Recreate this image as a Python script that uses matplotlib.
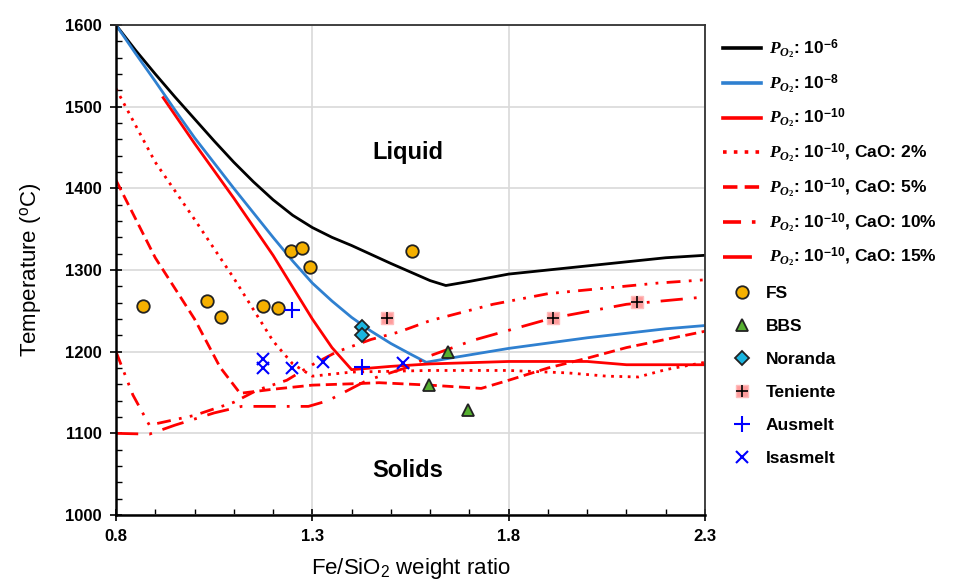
import numpy as np
import matplotlib
matplotlib.use('Agg')
import matplotlib.pyplot as plt
from matplotlib.legend_handler import HandlerTuple
from matplotlib.ticker import MultipleLocator, FixedLocator, FormatStrFormatter

plt.rcParams['font.family'] = ['Liberation Sans', 'DejaVu Sans']
plt.rcParams['mathtext.fontset'] = 'custom'
plt.rcParams['mathtext.it'] = 'Liberation Serif:italic:bold'
plt.rcParams['mathtext.rm'] = 'Liberation Serif:bold'

# Liquidus curves (Fe/SiO2 ratio, temperature in C)
x_p6 = [0.8, 0.85, 0.9, 0.95, 1.0, 1.05, 1.1, 1.15, 1.2, 1.25, 1.3, 1.35, 1.4, 1.5, 1.6, 1.64, 1.7, 1.8, 1.9, 2.0, 2.1, 2.2, 2.3]
t_p6 = [1600, 1569, 1540, 1512, 1485, 1458, 1432, 1408, 1386, 1367, 1352, 1340, 1330, 1308, 1287, 1281, 1286, 1295, 1300, 1305, 1310, 1315, 1318]

x_p8 = [0.8, 0.85, 0.9, 0.95, 1.0, 1.05, 1.1, 1.15, 1.2, 1.25, 1.3, 1.35, 1.4, 1.45, 1.5, 1.55, 1.59, 1.65, 1.8, 2.0, 2.2, 2.3]
t_p8 = [1600, 1565, 1531, 1496, 1462, 1431, 1400, 1370, 1340, 1311, 1284, 1262, 1242, 1225, 1210, 1197, 1187, 1192, 1204, 1217, 1228, 1232]

x_p10 = [0.92, 1.0, 1.1, 1.2, 1.3, 1.35, 1.4, 1.5, 1.6, 1.8, 2.0, 2.1, 2.3]
t_p10 = [1511, 1455, 1388, 1318, 1240, 1205, 1178, 1182, 1185, 1188, 1188, 1184, 1184]

x_cao2 = [0.8, 0.9, 1.0, 1.1, 1.2, 1.25, 1.3, 1.4, 1.6, 1.8, 1.95, 2.05, 2.13, 2.2, 2.3]
t_cao2 = [1522, 1432, 1362, 1290, 1213, 1185, 1170, 1175, 1177, 1177, 1174, 1170, 1169, 1178, 1187]

x_cao5 = [0.8, 0.9, 1.0, 1.065, 1.116, 1.2, 1.3, 1.42, 1.47, 1.6, 1.73, 1.8, 1.9, 2.0, 2.1, 2.2, 2.3]
t_cao5 = [1410, 1315, 1240, 1181, 1149, 1154, 1159, 1161, 1162, 1159, 1155, 1165, 1180, 1192, 1205, 1215, 1225]

x_cao10 = [0.8, 0.843, 0.885, 1.0, 1.1, 1.16, 1.235, 1.3, 1.363, 1.45, 1.52, 1.6, 1.76, 1.9, 2.05, 2.18, 2.3]
t_cao10 = [1200, 1147, 1110, 1122, 1138, 1153, 1165, 1184, 1200, 1215, 1224, 1238, 1258, 1271, 1278, 1284, 1288]

x_cao15 = [0.8, 0.885, 0.95, 1.05, 1.12, 1.29, 1.34, 1.44, 1.55, 1.6, 1.71, 1.91, 2.1, 2.3]
t_cao15 = [1100, 1099, 1110, 1125, 1133, 1133, 1140, 1165, 1182, 1195, 1214, 1241, 1258, 1267]

# Plant data
fs_x = [0.869, 1.032, 1.067, 1.174, 1.213, 1.245, 1.274, 1.294, 1.554]
fs_t = [1256, 1262, 1242, 1256, 1253, 1323, 1327, 1304, 1323]
bbs_x = [1.645, 1.597, 1.696]
bbs_t = [1200, 1159, 1129]
nor_x = [1.426, 1.426]
nor_t = [1230, 1220]
ten_x = [1.49, 1.913, 2.127]
ten_t = [1241, 1241, 1261]
aus_x = [1.248, 1.426]
aus_t = [1251, 1181]
isa_x = [1.174, 1.174, 1.248, 1.327, 1.531]
isa_t = [1191, 1180, 1180, 1187, 1186]

x_ticks = [0.8, 1.3, 1.8, 2.3]

po2 = r'$P_{O_2}$'
narrow = ['Liberation Sans Narrow', 'Liberation Sans']

fig = plt.figure(figsize=(9.54, 5.81), dpi=100)
ax = fig.add_axes([116/954, 1-515/581, (705-116)/954, (515-25)/581])

red = '#ff0000'
lw = 2.0
h1, = ax.plot(x_p6, t_p6, color='black', lw=lw)
h2, = ax.plot(x_p8, t_p8, color='#2f80d0', lw=lw)
h3, = ax.plot(x_p10, t_p10, color=red, lw=lw)
h4, = ax.plot(x_cao2, t_cao2, color=red, lw=lw, ls=(0, (1, 2)))
h5, = ax.plot(x_cao5, t_cao5, color=red, lw=lw, ls=(0, (4, 2)))
h6, = ax.plot(x_cao10, t_cao10, color=red, lw=lw, ls=(0, (5, 3, 1, 3, 1, 3)))
h7, = ax.plot(x_cao15, t_cao15, color=red, lw=lw, ls=(0, (8, 4, 1, 4)))

h8, = ax.plot(fs_x, fs_t, 'o', ms=9, mfc='#f5b000', mec='#222222', mew=1.3, ls='none')
h9, = ax.plot(bbs_x, bbs_t, '^', ms=9, mfc='#56b030', mec='#222222', mew=1.3, ls='none')
h10, = ax.plot(nor_x, nor_t, 'D', ms=7, mfc='#1ab5e0', mec='#222222', mew=1.3, ls='none')
h11a, = ax.plot(ten_x, ten_t, 's', ms=9, mfc='#ff9c9c', mec='#ffbcbc', ls='none')
h11b, = ax.plot(ten_x, ten_t, '+', ms=8, mec='black', mew=1.2, ls='none')
h12, = ax.plot(aus_x, aus_t, '+', ms=12, mec='#0000ff', mew=1.5, ls='none')
h13, = ax.plot(isa_x, isa_t, 'x', ms=9, mec='#0000ff', mew=1.5, ls='none')

ax.text(1.543, 1444, 'Liquid', fontsize=17, fontweight='bold', ha='center', va='center')
ax.text(1.543, 1055, 'Solids', fontsize=17, fontweight='bold', ha='center', va='center')

ax.set_xlim(0.8, 2.3)
ax.set_ylim(1000, 1600)
ax.xaxis.set_major_locator(FixedLocator(x_ticks))
ax.xaxis.set_minor_locator(MultipleLocator(0.1))
ax.xaxis.set_major_formatter(FormatStrFormatter('%.1f'))
ax.yaxis.set_major_locator(MultipleLocator(100))
ax.yaxis.set_minor_locator(MultipleLocator(20))
ax.grid(True, which='major', color='#d9d9d9', lw=1.2)
ax.set_axisbelow(True)
ax.tick_params(which='major', direction='inout', length=8, width=1.2, labelsize=12, pad=6)
ax.tick_params(which='minor', direction='in', length=4, width=1)
for lab in ax.get_xticklabels() + ax.get_yticklabels():
    lab.set_fontweight('bold')
    lab.set_family(narrow)
for s in ['left', 'bottom']:
    ax.spines[s].set_linewidth(1.8)
for s in ['top', 'right']:
    ax.spines[s].set_linewidth(1.3)
    ax.spines[s].set_color('#333333')

ax.set_xlabel(r'Fe/SiO$_\mathregular{2}$ weight ratio', fontsize=16, labelpad=9, family=narrow)
ax.set_ylabel(r'Temperature ($^\mathregular{o}$C)', fontsize=16, labelpad=16, family=narrow)

line_handles = [h1, h2, h3, h4, h5, h6, h7]
line_labels = [po2 + r': 10$^\mathregular{-6}$',
               po2 + r': 10$^\mathregular{-8}$',
               po2 + r': 10$^\mathregular{-10}$',
               po2 + r': 10$^\mathregular{-10}$, CaO: 2%',
               po2 + r': 10$^\mathregular{-10}$, CaO: 5%',
               po2 + r': 10$^\mathregular{-10}$, CaO: 10%',
               po2 + r': 10$^\mathregular{-10}$, CaO: 15%']
mark_handles = [h8, h9, h10, (h11a, h11b), h12, h13]
mark_labels = ['FS', 'BBS', 'Noranda', 'Teniente', 'Ausmelt', 'Isasmelt']

leg1 = fig.legend(line_handles, line_labels, loc='upper left', bbox_to_anchor=(707/954, 1-22/581),
                  frameon=False, handlelength=2.2, handletextpad=0.5, labelspacing=0.66,
                  prop={'weight': 'bold', 'size': 12.5})
for line in leg1.get_lines():
    line.set_linewidth(2.6)
leg2 = fig.legend(mark_handles, mark_labels, loc='upper left', bbox_to_anchor=(707/954, 1-270/581),
                  frameon=False, handlelength=2.2, handletextpad=0.3, labelspacing=1.03,
                  handler_map={tuple: HandlerTuple(ndivide=1, pad=0)},
                  prop={'weight': 'bold', 'size': 12.5})

fig.savefig('out.png', dpi=100)
